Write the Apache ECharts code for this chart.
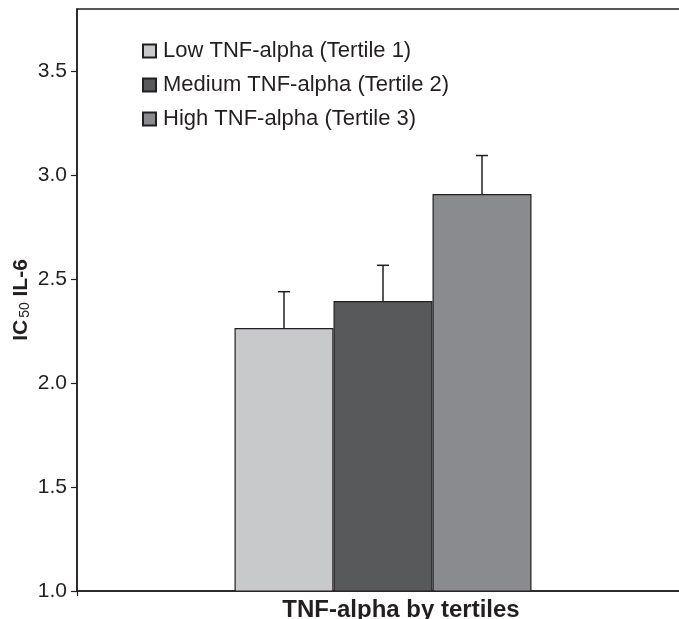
<!DOCTYPE html>
<html>
<head>
<meta charset="utf-8">
<script src="https://cdn.jsdelivr.net/npm/echarts@6/dist/echarts.min.js"></script>
<style>
html,body{margin:0;padding:0;background:#fff;}
#chart{width:679px;height:619px;}
</style>
</head>
<body>
<div id="chart"></div>
<script>
const categories = ['TNF-alpha by tertiles'];
const seriesNames = ['Low TNF-alpha (Tertile 1)', 'Medium TNF-alpha (Tertile 2)', 'High TNF-alpha (Tertile 3)'];
const means = [2.265, 2.395, 2.91];
const upperErr = [2.44, 2.567, 3.095];
const yTicks = [1.0, 1.5, 2.0, 2.5, 3.0, 3.5];
const colors = ['#c8c9cb', '#58595b', '#8a8b8e'];

const ink = '#231f20';
const font = 'Liberation Sans, Arial, sans-serif';
const BAR_W = 99;

const chart = echarts.init(document.getElementById('chart'));

const barSeries = seriesNames.map((n, i) => ({
  name: n,
  type: 'bar',
  data: [means[i]],
  barWidth: BAR_W,
  barGap: '0%',
  itemStyle: { color: colors[i], borderColor: ink, borderWidth: 1.2 },
  emphasis: { disabled: true },
  silent: true
}));

const errSeries = {
  type: 'custom',
  silent: true,
  z: 5,
  data: means.map((m, i) => [0, m, upperErr[i], i]),
  renderItem: function (params, api) {
    const idx = api.value(3);
    const off = (idx - 1) * BAR_W;
    const p0 = api.coord([api.value(0), api.value(1)]);
    const p1 = api.coord([api.value(0), api.value(2)]);
    const x = p0[0] + off;
    const cap = 6;
    return {
      type: 'group',
      children: [
        { type: 'line', shape: { x1: x, y1: p0[1], x2: x, y2: p1[1] }, style: { stroke: ink, lineWidth: 1.5 } },
        { type: 'line', shape: { x1: x - cap, y1: p1[1], x2: x + cap, y2: p1[1] }, style: { stroke: ink, lineWidth: 1.5 } }
      ]
    };
  }
};

chart.setOption({
  animation: false,
  backgroundColor: '#fff',
  grid: { left: 77, top: 9, width: 612, bottom: 28, outerBoundsMode: 'none', containLabel: false, show: true, borderColor: ink, borderWidth: 1.5, backgroundColor: 'transparent' },
  legend: {
    orient: 'vertical',
    left: 142,
    top: 40,
    padding: 0,
    itemWidth: 13,
    itemHeight: 13,
    itemGap: 12,
    icon: 'rect',
    selectedMode: false,
    data: seriesNames,
    textStyle: { fontFamily: font, fontSize: 22, color: ink, padding: [0, 0, 0, 2] }
  },
  xAxis: {
    type: 'category',
    data: categories,
    name: categories[0],
    nameLocation: 'middle',
    nameGap: 7,
    nameMoveOverlap: false,
    nameTextStyle: { fontFamily: font, fontSize: 24, fontWeight: 'bold', color: ink, padding: [0, 0, 0, 36] },
    axisLine: { lineStyle: { color: ink, width: 1.5 } },
    axisTick: { show: true, length: 5, lineStyle: { color: ink, width: 1.2 } },
    axisLabel: { show: false }
  },
  yAxis: {
    type: 'value',
    min: 1.0,
    max: 3.8,
    interval: 0.5,
    name: '{a|IC}{s|50}{a| IL-6}',
    nameLocation: 'middle',
    nameGap: 45,
    nameMoveOverlap: false,
    nameTextStyle: {
      rich: {
        a: { fontFamily: font, fontSize: 21, fontWeight: 'bold', color: ink },
        s: { fontFamily: font, fontSize: 14, color: ink, verticalAlign: 'bottom', padding: [0, 0, 0, 2] }
      }
    },
    splitLine: { show: false },
    axisLine: { show: true, lineStyle: { color: ink, width: 1.5 } },
    axisTick: { show: true, length: 6, customValues: yTicks, lineStyle: { color: ink, width: 1.2 } },
    axisLabel: {
      customValues: yTicks,
      margin: 10,
      fontFamily: font, fontSize: 21, color: ink,
      formatter: v => v.toFixed(1)
    }
  },
  series: [...barSeries, errSeries]
});
</script>
</body>
</html>
